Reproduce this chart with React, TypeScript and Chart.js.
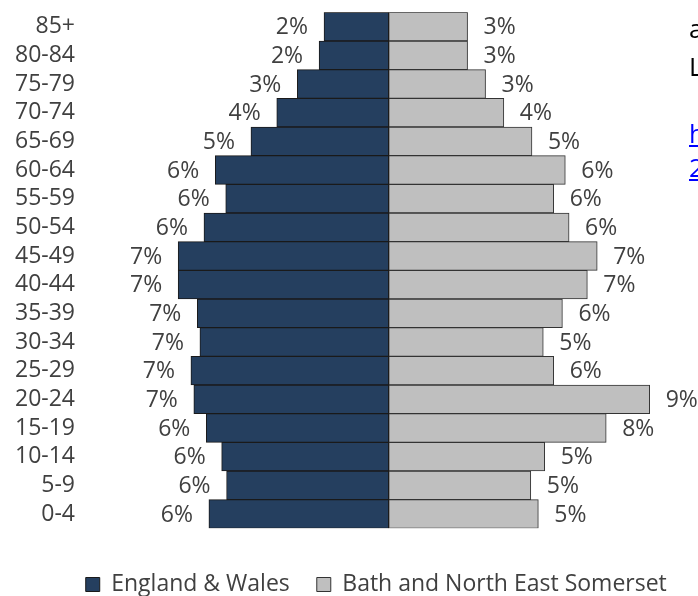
import React, { useEffect, useRef } from "react";
import { Chart, registerables } from "chart.js";

Chart.register(...registerables);

const categories = [
  "85+", "80-84", "75-79", "70-74", "65-69", "60-64", "55-59", "50-54", "45-49",
  "40-44", "35-39", "30-34", "25-29", "20-24", "15-19", "10-14", "5-9", "0-4",
];

const seriesNames = ["England & Wales", "Bath and North East Somerset"];

// percent of population per age band
const englandWales = [
  2.23, 2.4, 3.15, 3.86, 4.75, 5.98, 5.62, 6.37, 7.26,
  7.26, 6.6, 6.51, 6.82, 6.72, 6.29, 5.76, 5.59, 6.2,
];
const bathNES = [
  2.72, 2.72, 3.34, 3.97, 4.94, 6.09, 5.69, 6.22, 7.19,
  6.85, 5.99, 5.33, 5.69, 9.0, 7.5, 5.38, 4.9, 5.16,
];

const xRange = [-10.5, 12.545];

const FONT = '"Open Sans", "Noto Sans", sans-serif';
const TEXT = "#404040";

const labelPlugin = {
  id: "pyramidLabels",
  afterDatasetsDraw(chart: any) {
    const ctx = chart.ctx;
    ctx.save();
    ctx.font = `23px ${FONT}`;
    ctx.fillStyle = TEXT;
    ctx.textBaseline = "middle";
    chart.data.datasets.forEach((ds: any, di: number) => {
      const meta = chart.getDatasetMeta(di);
      meta.data.forEach((bar: any, i: number) => {
        const v = ds.data[i] as number;
        const txt = Math.round(Math.abs(v)) + "%";
        if (v < 0) {
          ctx.textAlign = "right";
          ctx.fillText(txt, bar.x - 16, bar.y + 1);
        } else {
          ctx.textAlign = "left";
          ctx.fillText(txt, bar.x + 16, bar.y + 1);
        }
      });
    });
    ctx.restore();
  },
};

export default function App() {
  const ref = useRef<HTMLCanvasElement | null>(null);

  useEffect(() => {
    if (!ref.current) return;
    const chart = new Chart(ref.current, {
      type: "bar",
      data: {
        labels: categories,
        datasets: [
          {
            label: seriesNames[0],
            data: englandWales.map((v) => -v),
            backgroundColor: "#253F5F",
            borderColor: "#1a1a1a",
            borderWidth: 1,
            borderSkipped: false,
            barPercentage: 1,
            categoryPercentage: 1,
          },
          {
            label: seriesNames[1],
            data: bathNES,
            backgroundColor: "#BFBFBF",
            borderColor: "#333333",
            borderWidth: 1,
            borderSkipped: false,
            barPercentage: 1,
            categoryPercentage: 1,
          },
        ],
      },
      options: {
        indexAxis: "y",
        responsive: false,
        animation: false,
        devicePixelRatio: 1,
        layout: { padding: { left: 0, right: 7.5, top: 12.3, bottom: 0 } },
        scales: {
          x: {
            stacked: true,
            min: xRange[0],
            max: xRange[1],
            display: true,
            grid: { display: false, drawTicks: false },
            border: { display: false },
            ticks: { display: false },
            afterFit: (s: any) => {
              s.height = 17.7;
              s.paddingLeft = 0;
              s.paddingRight = 0;
            },
          },
          y: {
            stacked: true,
            grid: { display: false, drawTicks: false },
            border: { display: false },
            ticks: {
              color: TEXT,
              font: { family: FONT, size: 23 },
              padding: 9.2,
              autoSkip: false,
            },
            afterFit: (s: any) => {
              s.width = 84.2;
              s.paddingTop = 0;
              s.paddingBottom = 0;
            },
          },
        },
        plugins: {
          legend: {
            position: "bottom",
            labels: {
              boxWidth: 14,
              boxHeight: 14,
              padding: 27,
              color: TEXT,
              font: { family: FONT, size: 23 },
            },
          },
          tooltip: { enabled: false },
        },
      },
      plugins: [labelPlugin],
    });
    return () => chart.destroy();
  }, []);

  const side: React.CSSProperties = {
    position: "absolute",
    left: 689,
    fontFamily: FONT,
    fontSize: 26,
    lineHeight: "26px",
    whiteSpace: "nowrap",
    color: "#000",
  };
  const link: React.CSSProperties = { ...side, color: "#0000FF", textDecoration: "underline" };

  return (
    <div
      style={{
        position: "absolute",
        left: 0,
        top: 0,
        width: 698,
        height: 596,
        overflow: "hidden",
        background: "#fff",
      }}
    >
      <canvas ref={ref} width={760} height={606} style={{ display: "block", width: 760, height: 606 }} />
      <div style={{ ...side, top: 15 }}>a</div>
      <div style={{ ...side, top: 53 }}>L</div>
      <div style={{ ...link, top: 120 }}>h</div>
      <div style={{ ...link, top: 154 }}>2</div>
    </div>
  );
}
